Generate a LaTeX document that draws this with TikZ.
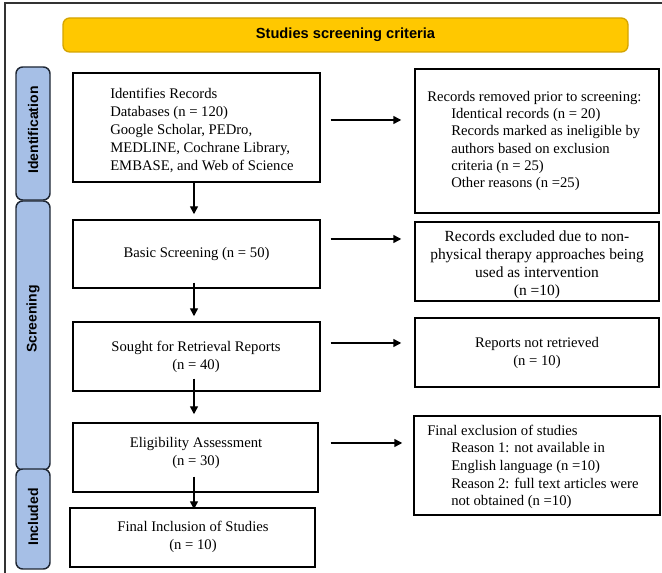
\documentclass[tikz,border=0pt]{standalone}
\usepackage{fontspec}
\setmainfont{Liberation Serif}
\setsansfont{Liberation Sans}
\usetikzlibrary{fit,arrows.meta}
\definecolor{tabblue}{HTML}{A6BFE6}
\definecolor{tabedge}{HTML}{1E2633}
\definecolor{goldfill}{HTML}{FFC800}
\definecolor{goldedge}{HTML}{D4A400}
\definecolor{framegray}{HTML}{333333}
\begin{document}
\begin{tikzpicture}[x=0.75pt,y=-0.75pt,
  box/.style={draw=black, line width=1.1pt, inner sep=0pt},
  tab/.style={draw=tabedge, fill=tabblue, rounded corners=5pt, line width=1.1pt, inner sep=0pt},
  tablabel/.style={rotate=90, font=\sffamily\bfseries\fontsize{10.5}{12}\selectfont, inner sep=0pt},
  arr/.style={-{Triangle[length=6pt,width=6pt]}, line width=1.1pt},
  txt/.style={inner sep=0pt, font=\fontsize{11}{13.5}\selectfont}]
\useasboundingbox (0,0) rectangle (662,573);
% frame
\draw[framegray, line width=0.8pt] (5,573) -- (5,3) -- (662,3);
% title
\node[draw=goldedge, fill=goldfill, rounded corners=5pt, line width=1pt, inner sep=0pt, fit={(63,18)(628,52)}] (title) {};
\node[inner sep=0pt, font=\sffamily\bfseries\fontsize{11}{12}\selectfont] (titletxt) at (title.center) {Studies screening criteria};
% tabs
\node[tab, fit={(16,67)(50,200)}] (tabid) {};
\node[tab, fit={(16,201)(50,470)}] (tabsc) {};
\node[tab, fit={(16,469)(50,569)}] (tabin) {};
\node[tablabel] (lid) at (33,130) {Identification};
\node[tablabel] (lsc) at (33,319) {Screening};
\node[tablabel] (lin) at (33,517) {Included};
% left boxes
\node[box, fit={(73,73)(320,182)}] (b1) {};
\node[box, fit={(73,220)(320,288)}] (b2) {};
\node[box, fit={(73,322)(320,391)}] (b3) {};
\node[box, fit={(73,423)(318,492)}] (b4) {};
\node[box, fit={(70,508)(315,567)}] (b5) {};
% right boxes
\node[box, fit={(415,69)(659,213)}] (r1) {};
\node[box, fit={(415,222)(659,301)}] (r2) {};
\node[box, fit={(415,318)(659,387)}] (r3) {};
\node[box, fit={(414,416)(660,515)}] (r4) {};
% texts
\node[txt, anchor=west, align=left] (t1) at (110,130) {Identifies Records\\Databases (n = 120)\\Google Scholar, PEDro,\\MEDLINE, Cochrane Library,\\EMBASE, and Web of Science};
\node[txt, align=center] (t2) at (b2.center) {Basic Screening (n = 50)};
\node[txt, align=center] (t3) at (196,357) {Sought for Retrieval Reports\\(n = 40)};
\node[txt, align=center] (t4) at (196,453) {Eligibility Assessment\\(n = 30)};
\node[txt, align=center] (t5) at (193,537) {Final Inclusion of Studies\\(n = 10)};
\node[txt, anchor=west, align=left, font=\fontsize{11}{13}\selectfont] (s1) at (427,141) {Records removed prior to screening:\\
\hspace*{18pt}Identical records (n = 20)\\
\hspace*{18pt}Records marked as ineligible by\\
\hspace*{18pt}authors based on exclusion\\
\hspace*{18pt}criteria (n = 25)\\
\hspace*{18pt}Other reasons (n =25)};
\node[txt, align=center, font=\fontsize{11.6}{13.4}\selectfont] (s2) at (537,265) {Records excluded due to non-\\physical therapy approaches being\\used as intervention\\(n =10)};
\node[txt, align=center] (s3) at (r3.center) {Reports not retrieved\\(n = 10)};
\node[txt, anchor=west, align=left, font=\fontsize{11}{13.2}\selectfont] (s4) at (427,467) {Final exclusion of studies\\
\hspace*{18pt}Reason 1: not available in\\
\hspace*{18pt}English language (n =10)\\
\hspace*{18pt}Reason 2: full text articles were\\
\hspace*{18pt}not obtained (n =10)};
% arrows vertical
\coordinate (ax) at (194,0);
\draw[arr] (b1.south -| ax) -- ([yshift=3.75pt]b2.north -| ax);
\draw[arr] ([yshift=4.5pt]b2.south -| ax) -- ([yshift=3.75pt]b3.north -| ax);
\draw[arr] ([yshift=9.75pt]b3.south -| ax) -- ([yshift=6pt]b4.north -| ax);
\draw[arr] ([yshift=12pt]b4.south -| ax) -- ([yshift=-1.5pt]b5.north -| ax);
% arrows horizontal
\coordinate (h1) at (0,120);
\coordinate (h2) at (0,239);
\coordinate (h3) at (0,343);
\coordinate (h4) at (0,443);
\draw[arr] ([xshift=7.5pt]b1.east |- h1) -- ([xshift=-9.75pt]r1.west |- h1);
\draw[arr] ([xshift=7.5pt]b2.east |- h2) -- ([xshift=-9.75pt]r2.west |- h2);
\draw[arr] ([xshift=7.5pt]b3.east |- h3) -- ([xshift=-9.75pt]r3.west |- h3);
\draw[arr] ([xshift=9pt]b4.east |- h4) -- ([xshift=-8.25pt]r4.west |- h4);
\end{tikzpicture}
\end{document}
